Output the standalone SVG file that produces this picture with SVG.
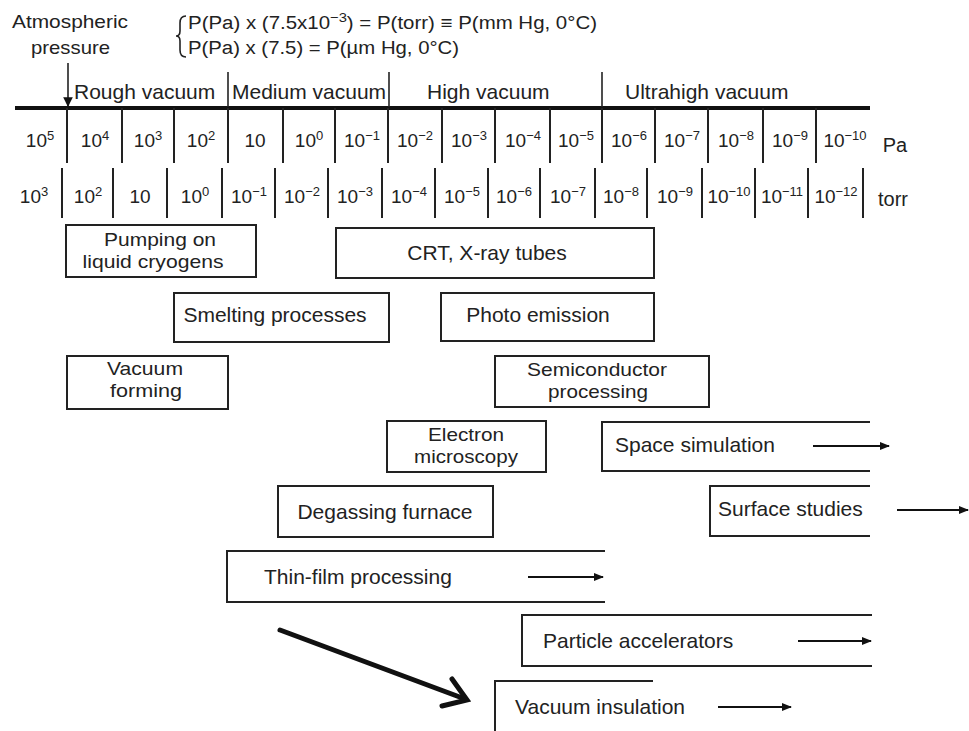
<svg xmlns="http://www.w3.org/2000/svg" width="969" height="731" viewBox="0 0 969 731">
<style>
text{font-family:"Liberation Sans",Arial,Helvetica,sans-serif;fill:#222}
.lbl{font-size:21px}
.l2{font-size:19px}
.sc{font-size:19px;text-anchor:middle}
.sup{font-size:13px}
.hd{font-size:19px}
.fm{font-size:18px}
.box{fill:none;stroke:#222;stroke-width:2}
.tick{stroke:#222;stroke-width:2}
.div{stroke:#222;stroke-width:1.6}
.arr{stroke:#111;stroke-width:2;marker-end:url(#ah)}
.c{text-anchor:middle}
</style>
<defs>
<marker id="ah" viewBox="0 0 10 8" refX="9" refY="4" markerWidth="5" markerHeight="4" orient="auto" markerUnits="strokeWidth">
<path d="M0,0 L10,4 L0,8 Z" fill="#111"/>
</marker>
<marker id="ahs" viewBox="0 0 10 10" refX="9" refY="5" markerWidth="6" markerHeight="8" orient="auto" markerUnits="strokeWidth">
<path d="M0,0 L10,5 L0,10 Z" fill="#111"/>
</marker>
</defs>
<rect width="969" height="731" fill="#fff"/>

<g id="header">
<text class="hd" x="12" y="28" textLength="116" lengthAdjust="spacingAndGlyphs">Atmospheric</text>
<text class="hd" x="31" y="54" textLength="79" lengthAdjust="spacingAndGlyphs">pressure</text>
<path d="M186,16 Q180,16 180,23 L180,31 Q180,36 176,36 Q180,36 180,41 L180,50 Q180,57 186,57" fill="none" stroke="#222" stroke-width="1.6"/>
<text class="fm" x="188" y="29" textLength="409" lengthAdjust="spacingAndGlyphs">P(Pa) x (7.5x10<tspan class="sup" dy="-7">−3</tspan><tspan dy="7">) = P(torr) ≡ P(mm Hg, 0°C)</tspan></text>
<text class="fm" x="188" y="54" textLength="271" lengthAdjust="spacingAndGlyphs">P(Pa) x (7.5) = P(µm Hg, 0°C)</text>
<line x1="68" y1="63" x2="68" y2="106" stroke="#222" stroke-width="1.6" marker-end="url(#ahs)"/>
</g>

<g id="ranges">
<line x1="15" y1="108" x2="870" y2="108" stroke="#111" stroke-width="4"/>
<line class="div" x1="228" y1="72" x2="228" y2="107"/>
<line class="div" x1="389" y1="72" x2="389" y2="107"/>
<line class="div" x1="602" y1="72" x2="602" y2="107"/>
<text class="lbl" x="74" y="99">Rough vacuum</text>
<text class="lbl" x="232" y="99">Medium vacuum</text>
<text class="lbl" x="427" y="99">High vacuum</text>
<text class="lbl" x="625" y="99">Ultrahigh vacuum</text>
</g>

<g id="pa-scale">
<g class="tick">
<line x1="67" y1="108" x2="67" y2="163"/><line x1="122" y1="108" x2="122" y2="163"/><line x1="174" y1="108" x2="174" y2="163"/><line x1="228" y1="108" x2="228" y2="163"/><line x1="283" y1="108" x2="283" y2="163"/><line x1="335" y1="108" x2="335" y2="163"/><line x1="388" y1="108" x2="388" y2="163"/><line x1="442" y1="108" x2="442" y2="163"/><line x1="495" y1="108" x2="495" y2="163"/><line x1="550" y1="108" x2="550" y2="163"/><line x1="602" y1="108" x2="602" y2="163"/><line x1="655" y1="108" x2="655" y2="163"/><line x1="708" y1="108" x2="708" y2="163"/><line x1="763" y1="108" x2="763" y2="163"/><line x1="816" y1="108" x2="816" y2="163"/>
</g>
<text class="sc" x="40" y="147">10<tspan class="sup" dy="-7">5</tspan></text>
<text class="sc" x="95" y="147">10<tspan class="sup" dy="-7">4</tspan></text>
<text class="sc" x="148" y="147">10<tspan class="sup" dy="-7">3</tspan></text>
<text class="sc" x="201" y="147">10<tspan class="sup" dy="-7">2</tspan></text>
<text class="sc" x="255" y="147">10</text>
<text class="sc" x="309" y="147">10<tspan class="sup" dy="-7">0</tspan></text>
<text class="sc" x="362" y="147">10<tspan class="sup" dy="-7">−1</tspan></text>
<text class="sc" x="415" y="147">10<tspan class="sup" dy="-7">−2</tspan></text>
<text class="sc" x="469" y="147">10<tspan class="sup" dy="-7">−3</tspan></text>
<text class="sc" x="523" y="147">10<tspan class="sup" dy="-7">−4</tspan></text>
<text class="sc" x="576" y="147">10<tspan class="sup" dy="-7">−5</tspan></text>
<text class="sc" x="629" y="147">10<tspan class="sup" dy="-7">−6</tspan></text>
<text class="sc" x="682" y="147">10<tspan class="sup" dy="-7">−7</tspan></text>
<text class="sc" x="736" y="147">10<tspan class="sup" dy="-7">−8</tspan></text>
<text class="sc" x="790" y="147">10<tspan class="sup" dy="-7">−9</tspan></text>
<text class="sc" x="845" y="147">10<tspan class="sup" dy="-7">−10</tspan></text>
<text class="sc" x="895" y="152" style="font-size:20px">Pa</text>
</g>

<g id="torr-scale">
<g class="tick">
<line x1="62" y1="168" x2="62" y2="218"/><line x1="113" y1="168" x2="113" y2="218"/><line x1="167" y1="168" x2="167" y2="218"/><line x1="222" y1="168" x2="222" y2="218"/><line x1="275" y1="168" x2="275" y2="218"/><line x1="328" y1="168" x2="328" y2="218"/><line x1="382" y1="168" x2="382" y2="218"/><line x1="435" y1="168" x2="435" y2="218"/><line x1="488" y1="168" x2="488" y2="218"/><line x1="540" y1="168" x2="540" y2="218"/><line x1="595" y1="168" x2="595" y2="218"/><line x1="647" y1="168" x2="647" y2="218"/><line x1="702" y1="168" x2="702" y2="218"/><line x1="755" y1="168" x2="755" y2="218"/><line x1="808" y1="168" x2="808" y2="218"/><line x1="863" y1="168" x2="863" y2="218"/>
</g>
<text class="sc" x="34" y="203">10<tspan class="sup" dy="-7">3</tspan></text>
<text class="sc" x="88" y="203">10<tspan class="sup" dy="-7">2</tspan></text>
<text class="sc" x="140" y="203">10</text>
<text class="sc" x="195" y="203">10<tspan class="sup" dy="-7">0</tspan></text>
<text class="sc" x="249" y="203">10<tspan class="sup" dy="-7">−1</tspan></text>
<text class="sc" x="302" y="203">10<tspan class="sup" dy="-7">−2</tspan></text>
<text class="sc" x="355" y="203">10<tspan class="sup" dy="-7">−3</tspan></text>
<text class="sc" x="409" y="203">10<tspan class="sup" dy="-7">−4</tspan></text>
<text class="sc" x="462" y="203">10<tspan class="sup" dy="-7">−5</tspan></text>
<text class="sc" x="514" y="203">10<tspan class="sup" dy="-7">−6</tspan></text>
<text class="sc" x="568" y="203">10<tspan class="sup" dy="-7">−7</tspan></text>
<text class="sc" x="621" y="203">10<tspan class="sup" dy="-7">−8</tspan></text>
<text class="sc" x="675" y="203">10<tspan class="sup" dy="-7">−9</tspan></text>
<text class="sc" x="729" y="203">10<tspan class="sup" dy="-7">−10</tspan></text>
<text class="sc" x="782" y="203">10<tspan class="sup" dy="-7">−11</tspan></text>
<text class="sc" x="836" y="203">10<tspan class="sup" dy="-7">−12</tspan></text>
<text class="sc" x="893" y="206" style="font-size:20px">torr</text>
</g>

<g id="pumping">
<rect class="box" x="66" y="225" width="190" height="52"/>
<text class="l2 c" x="160" y="246" textLength="112" lengthAdjust="spacingAndGlyphs">Pumping on</text>
<text class="l2 c" x="153" y="268" textLength="141" lengthAdjust="spacingAndGlyphs">liquid cryogens</text>
</g>
<g id="crt">
<rect class="box" x="336" y="228" width="318" height="50"/>
<text class="lbl c" x="487" y="260">CRT, X-ray tubes</text>
</g>
<g id="smelting">
<rect class="box" x="174" y="293" width="215" height="49"/>
<text class="lbl c" x="275" y="322">Smelting processes</text>
</g>
<g id="photo">
<rect class="box" x="441" y="293" width="213" height="48"/>
<text class="lbl c" x="538" y="322">Photo emission</text>
</g>
<g id="vacuum-forming">
<rect class="box" x="67" y="356" width="161" height="53"/>
<text class="l2 c" x="145" y="375" textLength="76" lengthAdjust="spacingAndGlyphs">Vacuum</text>
<text class="l2 c" x="146" y="397" textLength="72" lengthAdjust="spacingAndGlyphs">forming</text>
</g>
<g id="semiconductor">
<rect class="box" x="495" y="356" width="214" height="51"/>
<text class="l2 c" x="597" y="376" textLength="140" lengthAdjust="spacingAndGlyphs">Semiconductor</text>
<text class="l2 c" x="598" y="398" textLength="100" lengthAdjust="spacingAndGlyphs">processing</text>
</g>
<g id="electron">
<rect class="box" x="387" y="421" width="159" height="51"/>
<text class="l2 c" x="466" y="441" textLength="76" lengthAdjust="spacingAndGlyphs">Electron</text>
<text class="l2 c" x="466" y="463" textLength="104" lengthAdjust="spacingAndGlyphs">microscopy</text>
</g>
<g id="space">
<path class="box" d="M870,422 H602 V471 H870"/>
<text class="lbl" x="615" y="452">Space simulation</text>
<line class="arr" x1="813" y1="446" x2="889" y2="446"/>
</g>
<g id="degassing">
<rect class="box" x="278" y="486" width="215" height="51"/>
<text class="lbl c" x="385" y="519">Degassing furnace</text>
</g>
<g id="surface">
<path class="box" d="M870,486 H710 V536 H870"/>
<text class="lbl" x="718" y="516">Surface studies</text>
<line class="arr" x1="897" y1="510" x2="968" y2="510"/>
</g>
<g id="thin-film">
<path class="box" d="M605,551 H227 V602 H605"/>
<text class="lbl" x="264" y="584">Thin-film processing</text>
<line class="arr" x1="528" y1="577" x2="603" y2="577"/>
</g>
<g id="particle">
<path class="box" d="M872,615 H522 V666 H872"/>
<text class="lbl" x="543" y="648">Particle accelerators</text>
<line class="arr" x1="798" y1="641" x2="871" y2="641"/>
</g>
<g id="vacuum-insulation">
<path class="box" d="M653,681 H495 V731"/>
<text class="lbl" x="515" y="714">Vacuum insulation</text>
<line class="arr" x1="718" y1="707" x2="791" y2="707"/>
</g>

<g id="connectors">
<line x1="280" y1="630" x2="465" y2="699" stroke="#111" stroke-width="5" stroke-linecap="round"/>
<polyline points="452,679 467,700 442,706" fill="none" stroke="#111" stroke-width="5" stroke-linecap="round" stroke-linejoin="miter"/>
</g>
</svg>
